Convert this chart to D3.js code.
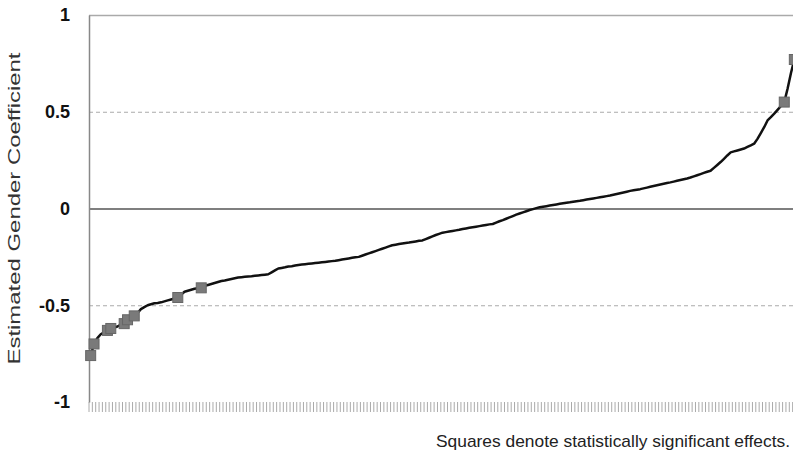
<!DOCTYPE html>
<html>
<head>
<meta charset="utf-8">
<script src="https://cdn.jsdelivr.net/npm/d3@7"></script>
<style>
  body { margin: 0; background: #fff; }
  text { font-family: "Liberation Sans", Arial, sans-serif; }
</style>
</head>
<body>
<div id="chart"></div>
<script>
// sorted gender coefficients, one per unit
const coefficients = [
  -0.76, -0.70, -0.67, -0.65, -0.64, -0.63, -0.62, -0.615, -0.61, -0.60,
  -0.595, -0.575, -0.565, -0.555, -0.54, -0.52, -0.51, -0.50, -0.495, -0.49,
  -0.488, -0.485, -0.48, -0.475, -0.47, -0.465, -0.46, -0.445, -0.43, -0.425,
  -0.42, -0.415, -0.412, -0.41, -0.40, -0.395, -0.39, -0.385, -0.38, -0.375,
  -0.372, -0.368, -0.364, -0.36, -0.357, -0.355, -0.353, -0.351, -0.35, -0.348,
  -0.346, -0.344, -0.342, -0.34, -0.33, -0.32, -0.31, -0.307, -0.304, -0.30,
  -0.298, -0.295, -0.292, -0.29, -0.288, -0.286, -0.284, -0.282, -0.28, -0.278,
  -0.276, -0.274, -0.272, -0.27, -0.267, -0.264, -0.261, -0.258, -0.255, -0.252,
  -0.25, -0.244, -0.238, -0.232, -0.226, -0.22, -0.214, -0.208, -0.202, -0.196,
  -0.19, -0.187, -0.184, -0.181, -0.178, -0.176, -0.173, -0.17, -0.167, -0.165,
  -0.158, -0.151, -0.144, -0.137, -0.131, -0.125, -0.122, -0.119, -0.116, -0.113,
  -0.11, -0.106, -0.103, -0.10, -0.097, -0.094, -0.091, -0.088, -0.085, -0.082,
  -0.08, -0.073, -0.066, -0.06, -0.053, -0.046, -0.039, -0.032, -0.026, -0.02,
  -0.014, -0.008, -0.003, 0.002, 0.006, 0.009, 0.012, 0.015, 0.018, 0.021,
  0.024, 0.027, 0.03, 0.032, 0.035, 0.038, 0.04, 0.043, 0.046, 0.049,
  0.052, 0.055, 0.058, 0.061, 0.064, 0.067, 0.071, 0.075, 0.079, 0.083,
  0.087, 0.091, 0.094, 0.097, 0.10, 0.104, 0.108, 0.112, 0.116, 0.12,
  0.124, 0.128, 0.132, 0.135, 0.139, 0.143, 0.147, 0.151, 0.155, 0.16,
  0.166, 0.172, 0.178, 0.184, 0.19, 0.195, 0.21, 0.225, 0.24, 0.257,
  0.274, 0.29, 0.295, 0.30, 0.305, 0.31, 0.318, 0.326, 0.335, 0.36,
  0.39, 0.42, 0.455, 0.472, 0.49, 0.51, 0.53, 0.55, 0.62, 0.70,
  0.77
];
// positions (in sorted order) of the statistically significant effects
const significant = [0, 1, 5, 6, 10, 11, 13, 26, 33, 207, 210];
const yTicks = [-1, -0.5, 0, 0.5, 1];
const yTickLabels = ["-1", "-0.5", "0", "0.5", "1"];

const width = 793, height = 455;
const margin = {top: 15, right: -3, bottom: 53, left: 89};

const svg = d3.select("#chart")
    .append("svg")
    .attr("width", width)
    .attr("height", height);

const data = coefficients.map((v, i) => ({i: i, v: v, sig: significant.includes(i)}));

const x = d3.scaleBand()
    .domain(d3.range(coefficients.length))
    .range([margin.left, width - margin.right]);

const y = d3.scaleLinear()
    .domain([-1, 1])
    .range([height - margin.bottom, margin.top]);

// gridlines (top one solid, the halves dashed)
svg.append("g")
    .selectAll("line")
    .data(yTicks.filter(d => d !== -1 && d !== 0))
    .join("line")
    .attr("x1", margin.left)
    .attr("x2", width)
    .attr("y1", d => y(d) + 0.5)
    .attr("y2", d => y(d) + 0.5)
    .attr("stroke", "#aaa")
    .attr("stroke-width", d => d === 1 ? 1.5 : 1)
    .attr("stroke-dasharray", d => d === 1 ? null : "4,3");

// zero line
svg.append("line")
    .attr("x1", margin.left)
    .attr("x2", width)
    .attr("y1", y(0) + 0.5)
    .attr("y2", y(0) + 0.5)
    .attr("stroke", "#555")
    .attr("stroke-width", 1.5);

// category ticks along the bottom
const xAxis = d3.axisBottom(x)
    .tickSize(10)
    .tickFormat("");
const gx = svg.append("g")
    .attr("transform", "translate(" + (-x.bandwidth() / 2) + "," + y(-1) + ")")
    .call(xAxis);
gx.select(".domain").remove();
gx.selectAll("line").attr("stroke", "#aaa");

// y axis
const yAxis = d3.axisLeft(y)
    .tickValues(yTicks)
    .tickSize(0)
    .tickPadding(19)
    .tickFormat((d, i) => yTickLabels[i]);
const gy = svg.append("g")
    .attr("transform", "translate(" + margin.left + ",0)")
    .call(yAxis);
gy.select(".domain")
    .attr("stroke", "#888")
    .attr("stroke-width", 1.5);
gy.selectAll("text")
    .attr("font-size", "18px")
    .attr("font-weight", "bold")
    .attr("font-family", "Liberation Sans, Arial, sans-serif")
    .attr("fill", "#111");

// the line
const line = d3.line()
    .x(d => x(d.i) + x.bandwidth() / 2)
    .y(d => y(d.v));

svg.append("path")
    .datum(data)
    .attr("d", line)
    .attr("fill", "none")
    .attr("stroke", "#111")
    .attr("stroke-width", 2.5)
    .attr("stroke-linejoin", "round");

// significant markers
const sq = 10;
svg.append("g")
    .selectAll("rect")
    .data(data.filter(d => d.sig))
    .join("rect")
    .attr("x", d => x(d.i) + x.bandwidth() / 2 - sq / 2)
    .attr("y", d => y(d.v) - sq / 2)
    .attr("width", sq)
    .attr("height", sq)
    .attr("fill", "#7a7a7a")
    .attr("stroke", "#666")
    .attr("stroke-width", 1);

// axis title
svg.append("text")
    .attr("transform", "translate(20," + y(0) + ") rotate(-90)")
    .attr("text-anchor", "middle")
    .attr("font-size", "17px")
    .attr("textLength", 312)
    .attr("lengthAdjust", "spacingAndGlyphs")
    .attr("fill", "#333")
    .text("Estimated Gender Coefficient");

// footnote
svg.append("text")
    .attr("x", 790)
    .attr("y", 447)
    .attr("text-anchor", "end")
    .attr("font-size", "17px")
    .attr("textLength", 354)
    .attr("lengthAdjust", "spacingAndGlyphs")
    .attr("fill", "#222")
    .text("Squares denote statistically significant effects.");
</script>
</body>
</html>
